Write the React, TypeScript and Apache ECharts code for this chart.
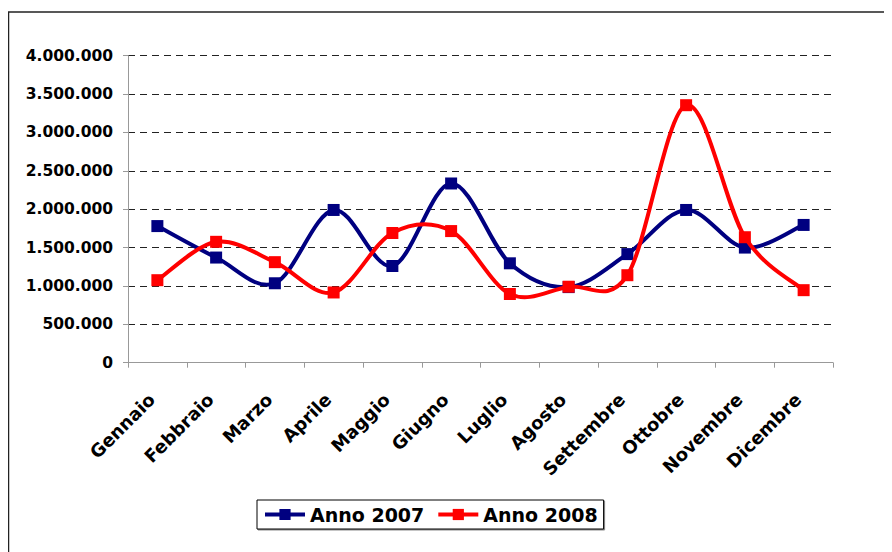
import React, { useEffect, useRef } from "react";
import * as echarts from "echarts";

const months = [
  "Gennaio", "Febbraio", "Marzo", "Aprile", "Maggio", "Giugno",
  "Luglio", "Agosto", "Settembre", "Ottobre", "Novembre", "Dicembre",
];
const anno2007 = [1780000, 1370000, 1035000, 1990000, 1260000, 2335000, 1295000, 985000, 1415000, 1990000, 1500000, 1795000];
const anno2008 = [1075000, 1575000, 1310000, 915000, 1690000, 1715000, 895000, 990000, 1140000, 3355000, 1635000, 945000];
const seriesNames = ["Anno 2007", "Anno 2008"];
const seriesColors = ["#000080", "#FF0000"];

const fmt = (v: number) => String(Math.round(v)).replace(/\B(?=(\d{3})+(?!\d))/g, ".");

export default function App() {
  const ref = useRef<HTMLDivElement>(null);
  useEffect(() => {
    if (!ref.current) return;
    const chart = echarts.init(ref.current, null, { renderer: "svg" });
    const font = "'DejaVu Sans', Verdana, sans-serif";

    // Excel-like smoothed curve (Bezier with Catmull-Rom control points), drawn via the axes' scales
    const mkCurve = (name: string, data: number[], color: string, z: number) => ({
      name: name + " curve",
      type: "custom",
      z,
      silent: true,
      data: data.slice(0, -1).map((v, i) => [i, v]),
      encode: { x: 0, y: 1 },
      renderItem: (params: any, api: any) => {
        const i = api.value(0) as number;
        const n = data.length;
        const pt = (k: number) => {
          const kk = Math.max(0, Math.min(n - 1, k));
          return api.coord([kk, data[kk]]);
        };
        const p0 = pt(i - 1);
        const p1 = pt(i);
        const p2 = pt(i + 1);
        const p3 = pt(i + 2);
        const t = 1 / 6;
        return {
          type: "bezierCurve",
          shape: {
            x1: p1[0],
            y1: p1[1],
            x2: p2[0],
            y2: p2[1],
            cpx1: p1[0] + (p2[0] - p0[0]) * t,
            cpy1: p1[1] + (p2[1] - p0[1]) * t,
            cpx2: p2[0] - (p3[0] - p1[0]) * t,
            cpy2: p2[1] - (p3[1] - p1[1]) * t,
          },
          style: { stroke: color, lineWidth: 4, fill: "none", lineCap: "round" },
        };
      },
    });
    const mkMarkers = (name: string, data: number[], color: string, z: number) => ({
      name,
      type: "line",
      data,
      z,
      symbol: "rect",
      symbolSize: 12,
      lineStyle: { color, width: 4, opacity: 0 },
      itemStyle: { color },
    });

    chart.setOption({
      animation: false,
      textStyle: { fontFamily: font },
      graphic: [
        {
          type: "rect",
          shape: { x: 0.5, y: 4, width: 1000, height: 700 },
          style: { fill: "none", stroke: "#222", lineWidth: 1.5 },
          silent: true,
          z: -1,
        },
      ],
      grid: { left: 120, top: 47.7, right: 59, bottom: 189.3 },
      legend: {
        left: 249,
        top: 492,
        itemWidth: 40,
        itemHeight: 14,
        itemGap: 12,
        padding: [5, 6, 5, 6],
        borderColor: "#000",
        borderWidth: 1,
        backgroundColor: "#fff",
        shadowColor: "rgba(0,0,0,0.45)",
        shadowOffsetX: 1,
        shadowOffsetY: 1,
        shadowBlur: 0,
        textStyle: { fontFamily: font, fontWeight: "bold", fontSize: 19, color: "#000" },
        data: seriesNames.map((name, k) => ({
          name,
          itemStyle: { color: seriesColors[k] },
          lineStyle: { color: seriesColors[k], width: 4, opacity: 1 },
        })),
      },
      xAxis: {
        type: "category",
        data: months,
        boundaryGap: true,
        axisLine: { lineStyle: { color: "#999", width: 1 } },
        axisTick: { show: true, alignWithLabel: false, length: 5, lineStyle: { color: "#999" } },
        axisLabel: {
          rotate: 45,
          margin: 28,
          padding: [0, 8, 0, 0],
          interval: 0,
          fontFamily: font,
          fontWeight: "bold",
          fontSize: 18,
          color: "#000",
        },
      },
      yAxis: {
        type: "value",
        min: 0,
        max: 4000000,
        interval: 500000,
        axisLine: { show: true, lineStyle: { color: "#999", width: 1 } },
        axisTick: { show: true, length: 5, lineStyle: { color: "#999" } },
        splitLine: { lineStyle: { color: "#222", type: [7, 5], width: 1 } },
        axisLabel: {
          margin: 15,
          fontFamily: font,
          fontWeight: "bold",
          fontSize: 15.5,
          color: "#000",
          formatter: (v: number) => fmt(v),
        },
      },
      series: [
        mkCurve(seriesNames[0], anno2007, seriesColors[0], 2),
        mkMarkers(seriesNames[0], anno2007, seriesColors[0], 3),
        mkCurve(seriesNames[1], anno2008, seriesColors[1], 4),
        mkMarkers(seriesNames[1], anno2008, seriesColors[1], 5),
      ],
    });
    return () => chart.dispose();
  }, []);
  return <div ref={ref} style={{ width: 884, height: 544 }} />;
}
